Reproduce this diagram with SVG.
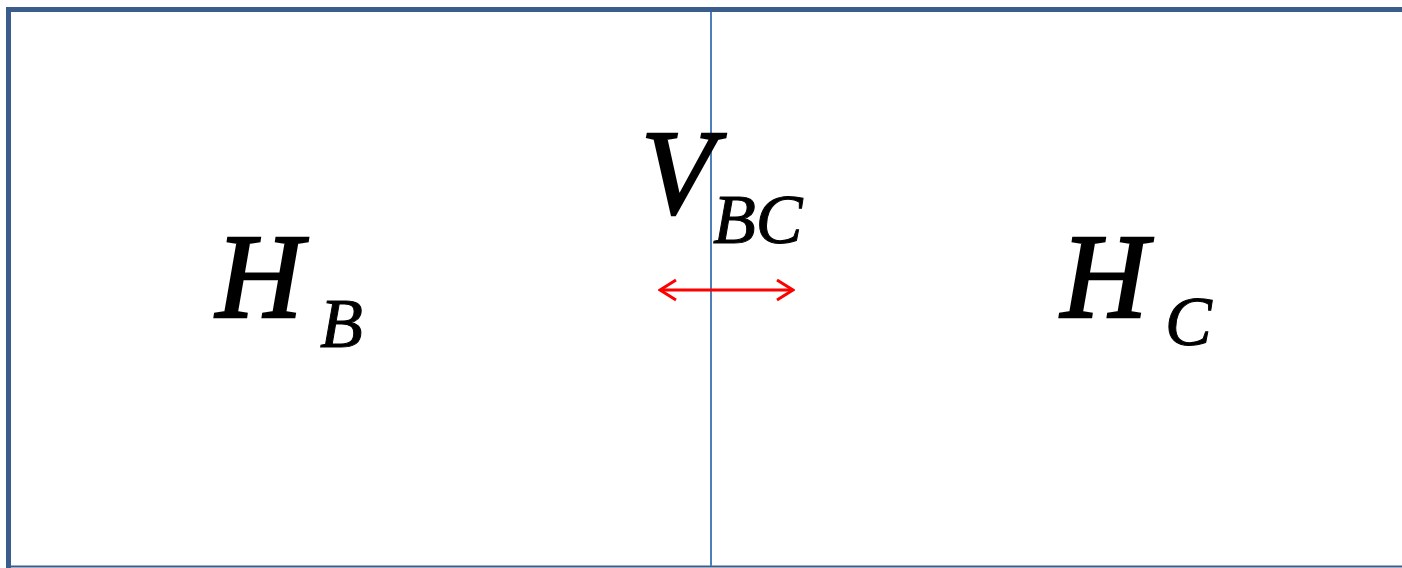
<svg xmlns="http://www.w3.org/2000/svg" width="1402" height="568" viewBox="0 0 1402 568">
<style>
.big{font-family:"Liberation Serif","Times New Roman",serif;font-style:italic;font-size:120px;fill:#000;stroke:#000;stroke-width:2.5}
.sub{font-family:"Liberation Serif","Times New Roman",serif;font-style:italic;font-size:70px;fill:#000;stroke:#000;stroke-width:1}
</style>
<defs>
<marker id="ah" viewBox="0 0 20 24" refX="18" refY="12" markerWidth="20" markerHeight="24" markerUnits="userSpaceOnUse" orient="auto-start-reverse">
<path d="M2,2 L18,12 L2,22" fill="none" stroke="#FF0000" stroke-width="3"/>
</marker>
</defs>
<rect width="1402" height="568" fill="#fff"/>
<g id="frame">
<path d="M1402,9.5 H8.5 V568" fill="none" stroke="#3A5D8B" stroke-width="5"/>
<line x1="8" y1="566.5" x2="1402" y2="566.5" stroke="#3A5D8B" stroke-width="2"/>
</g>
<g id="divider">
<line x1="711" y1="12" x2="711" y2="566" stroke="#4F7FBA" stroke-width="2"/>
</g>
<g id="HB">
<text class="big" x="216" y="317">H</text>
<text class="sub" x="320" y="347">B</text>
</g>
<g id="VBC">
<text class="big" x="641" y="213">V</text>
<text class="sub" x="713" y="243">BC</text>
</g>
<g id="HC">
<text class="big" x="1061" y="317">H</text>
<text class="sub" x="1165" y="345">C</text>
</g>
<g id="connectors">
<line x1="660" y1="290" x2="793" y2="290" stroke="#FF0000" stroke-width="3" marker-start="url(#ah)" marker-end="url(#ah)"/>
</g>
</svg>
